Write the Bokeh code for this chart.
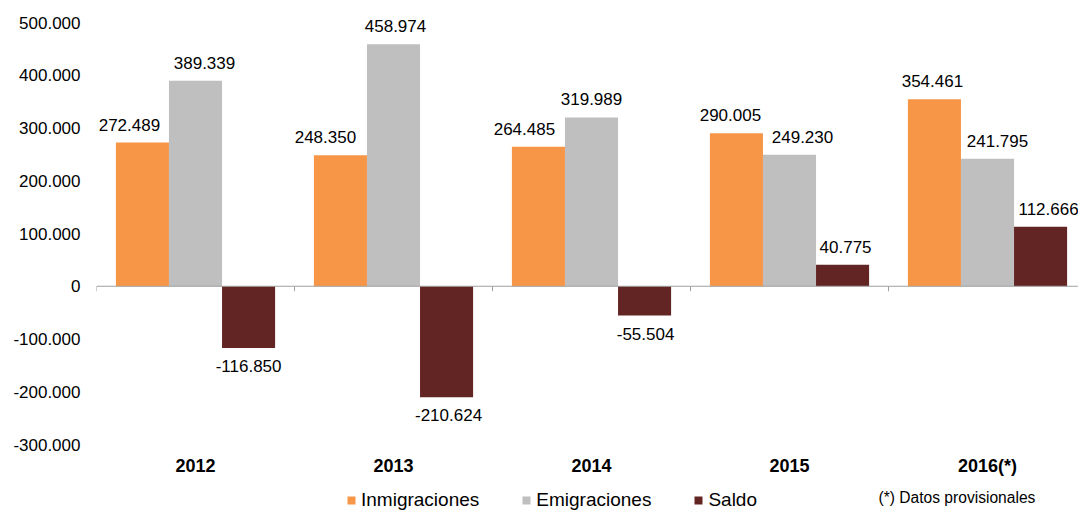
import numpy as np
from bokeh.plotting import figure
from bokeh.models import (Range1d, FixedTicker, Span, Legend, LegendItem, Label,
                          ColumnDataSource)
from bokeh.embed import file_html
from bokeh.resources import INLINE
from bokeh.core.properties import value

# ---------------- data ----------------
categories = ["2012", "2013", "2014", "2015", "2016(*)"]
inmigraciones = [272489, 248350, 264485, 290005, 354461]
emigraciones = [389339, 458974, 319989, 249230, 241795]
saldo = [-116850, -210624, -55504, 40775, 112666]
series_names = ["Inmigraciones", "Emigraciones", "Saldo"]
y_ticks = [-300000, -200000, -100000, 0, 100000, 200000, 300000, 400000, 500000]
note_text = "(*) Datos provisionales"

# ---------------- style / layout ----------------
FONT = "Liberation Sans"
colors = ["#F79646", "#BFBFBF", "#632523"]
W, H = 1078, 512
BL = 96                 # frame left edge (px)
axis_top_px = 22        # pixel row of the top tick value
axis_bot_px = 444       # pixel row of the bottom tick value
cat_px = 198.0          # width of one category in px
bar_w = 0.268
# horizontal label nudges (px) per series, as placed in the original chart
label_nudge_px = [[-13, -15, -14, -6, -2],
                  [9, 2, 0, 13, 10],
                  [0, 2, 1, 3, 8]]

y_min, y_max = y_ticks[0], y_ticks[-1]
upp = (y_max - y_min) / (axis_bot_px - axis_top_px)   # data units per px
y_hi = y_max + axis_top_px * upp
y_lo = y_min - (H - axis_bot_px) * upp
frame_w = W - BL


def fmt(v):
    return f"{v:,}".replace(",", ".")


p = figure(width=W, height=H, output_backend="svg", toolbar_location=None,
           x_range=Range1d(-0.5, -0.5 + frame_w / cat_px),
           y_range=Range1d(y_lo, y_hi),
           min_border_left=BL, min_border_right=0,
           min_border_top=0, min_border_bottom=0)
p.outline_line_color = None
p.xgrid.visible = False
p.ygrid.visible = False
p.xaxis.visible = False
p.background_fill_color = "white"
p.border_fill_color = "white"

idx = np.arange(len(categories))
offsets = [-bar_w, 0.0, bar_w]
series = [inmigraciones, emigraciones, saldo]

# zero line and category boundary ticks
p.add_layout(Span(location=0, dimension="width", line_color="#A0A0A0", line_width=1))
tick_len = 5 * upp
p.segment(x0=idx - 0.5, y0=np.zeros(len(idx)), x1=idx - 0.5,
          y1=np.full(len(idx), -tick_len), line_color="#A0A0A0", line_width=1)

renderers = []
for vals, off, col, nud in zip(series, offsets, colors, label_nudge_px):
    vals = np.array(vals)
    src = ColumnDataSource(dict(
        x=idx + off, top=vals,
        label=[fmt(int(v)) for v in vals],
        yoff=np.where(vals >= 0, -18, 18),
        xoff=np.array(nud, dtype=float),
    ))
    r = p.vbar(x="x", top="top", bottom=0, width=bar_w, fill_color=col,
               line_color=None, source=src)
    renderers.append(r)
    p.text(x="x", y="top", text="label", x_offset="xoff", y_offset="yoff", source=src,
           text_align="center", text_baseline="middle",
           text_font=value(FONT), text_font_size="17px", text_color="black")

# category labels along the bottom
cat_src = ColumnDataSource(dict(x=idx, y=np.full(len(idx), y_min), t=categories))
p.text(x="x", y="y", text="t", source=cat_src, y_offset=21,
       text_align="center", text_baseline="middle",
       text_font=value(FONT), text_font_size="18px", text_font_style="bold",
       text_color="black")

# y axis
p.yaxis.ticker = FixedTicker(ticks=y_ticks)
p.yaxis.major_label_overrides = {t: fmt(t) for t in y_ticks}
p.yaxis.axis_line_color = None
p.yaxis.major_tick_line_color = None
p.yaxis.minor_tick_line_color = None
p.yaxis.major_tick_out = 0
p.yaxis.major_label_standoff = 16
p.yaxis.major_label_text_font = FONT
p.yaxis.major_label_text_font_size = "17px"
p.yaxis.major_label_text_color = "black"

legend = Legend(items=[LegendItem(label=n, renderers=[r]) for n, r in zip(series_names, renderers)],
                orientation="horizontal", location=(250, 1),
                border_line_color=None, background_fill_alpha=0,
                padding=0, margin=0, spacing=42,
                glyph_width=10, glyph_height=10, label_standoff=5,
                label_text_font=FONT, label_text_font_size="19px",
                label_text_color="black")
p.add_layout(legend)

p.add_layout(Label(x=782, y=15, x_units="screen", y_units="screen", text=note_text,
                   text_font=FONT, text_font_size="15.6px", text_color="black",
                   text_baseline="middle"))

open("out.html", "w").write(file_html(p, INLINE))
